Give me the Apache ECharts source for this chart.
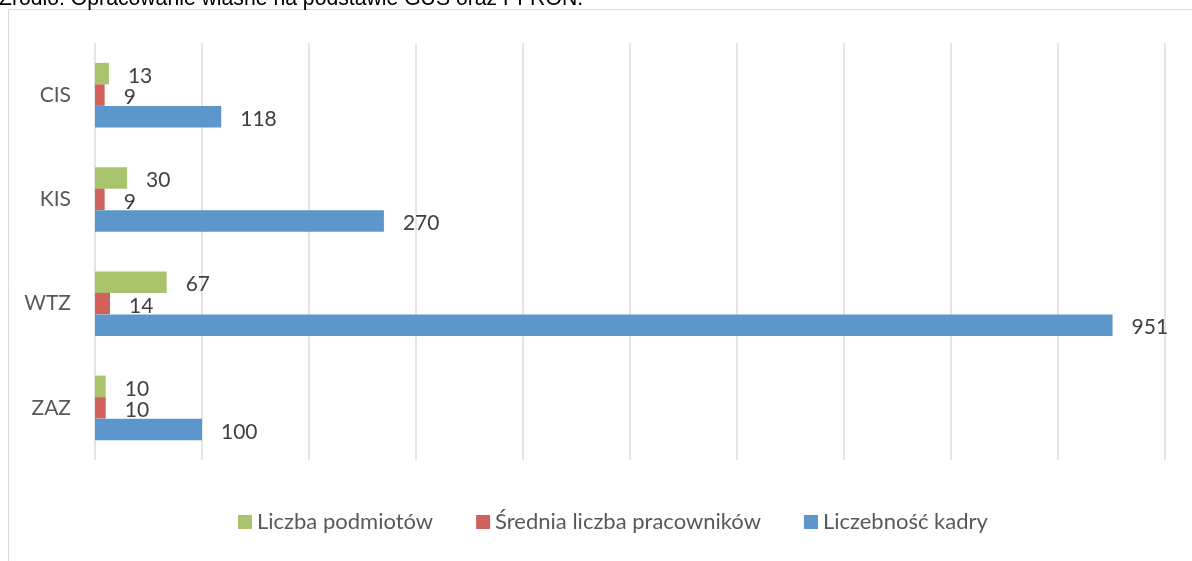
<!DOCTYPE html>
<html>
<head>
<meta charset="utf-8">
<script src="https://cdn.jsdelivr.net/npm/echarts@6/dist/echarts.min.js"></script>
<style>
  html, body { margin: 0; padding: 0; background: #ffffff; }
  #chart { width: 1192px; height: 561px; }
</style>
</head>
<body>
<div id="chart"></div>
<script>
// Zakłady i placówki: liczba podmiotów, średnia liczba pracowników, liczebność kadry
const categories = ['CIS', 'KIS', 'WTZ', 'ZAZ'];
const seriesNames = ['Liczba podmiotów', 'Średnia liczba pracowników', 'Liczebność kadry'];
const liczbaPodmiotow = [13, 30, 67, 10];
const sredniaLiczbaPracownikow = [9, 9, 14, 10];
const liczebnoscKadry = [118, 270, 951, 100];
const sourceNote = 'Źródło: Opracowanie własne na podstawie GUS oraz PFRON.';

const colors = ['#a9c46c', '#d0625b', '#5d96cb'];
const values = [liczbaPodmiotow, sredniaLiczbaPracownikow, liczebnoscKadry];
const FONT = 'Lato';

const chart = echarts.init(document.getElementById('chart'), null, { renderer: 'canvas' });

const series = seriesNames.map((name, i) => ({
  name: name,
  type: 'bar',
  data: values[i],
  barWidth: 21.5,
  barGap: '0%',
  itemStyle: { color: colors[i] },
  label: {
    show: true,
    position: 'right',
    distance: 19,
    offset: [0, 2.5],
    color: '#404040',
    fontFamily: FONT,
    fontSize: 21
  },
  emphasis: { disabled: true }
}));

chart.setOption({
  animation: false,
  backgroundColor: '#ffffff',
  color: colors,
  graphic: [
    {
      type: 'rect',
      silent: true,
      z: -10,
      shape: { x: 8.5, y: 9.5, width: 1300, height: 700 },
      style: { fill: 'none', stroke: '#d9d9d9', lineWidth: 1 }
    },
    {
      type: 'text',
      silent: true,
      x: -1,
      y: -1,
      style: {
        text: sourceNote,
        font: '21.2px "Liberation Sans"',
        fill: '#000000',
        verticalAlign: 'middle',
        align: 'left'
      }
    }
  ],
  grid: { left: 95, right: 27, top: 43, bottom: 101, containLabel: false },
  legend: {
    data: seriesNames,
    top: 506,
    left: 233,
    icon: 'rect',
    itemWidth: 14,
    itemHeight: 14,
    itemGap: 43,
    textStyle: { color: '#595959', fontFamily: FONT, fontSize: 22 },
    selectedMode: false
  },
  xAxis: {
    type: 'value',
    min: 0,
    max: 1000,
    interval: 100,
    axisLabel: { show: false },
    axisLine: { show: false },
    axisTick: { show: false },
    splitLine: { show: true, lineStyle: { color: '#dcdcdc', width: 1.5 } }
  },
  yAxis: {
    type: 'category',
    inverse: true,
    data: categories,
    axisLine: { show: false },
    axisTick: { show: false },
    axisLabel: { margin: 24, color: '#595959', fontFamily: FONT, fontSize: 21 }
  },
  series: series
});
</script>
</body>
</html>
